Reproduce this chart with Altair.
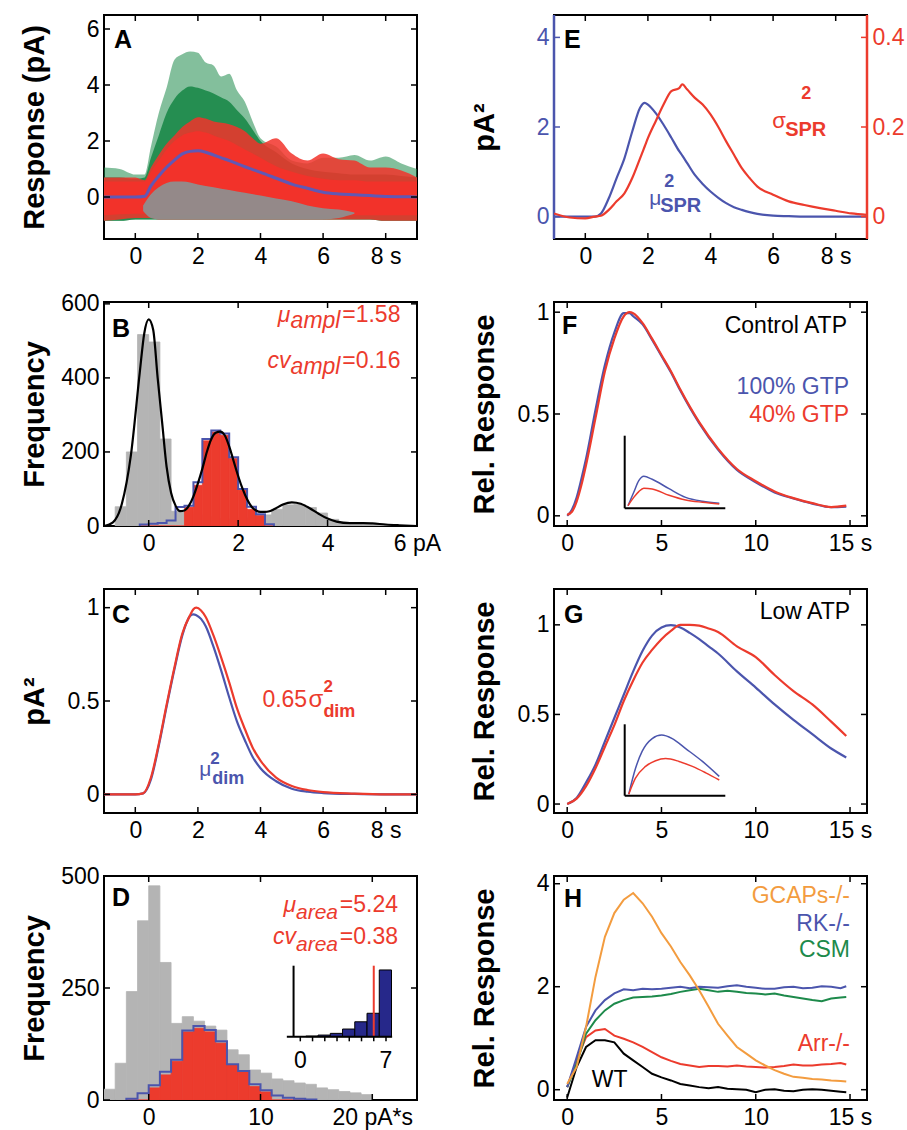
import altair as alt
import pandas as pd

FONT = "Liberation Sans"
W, H = 313, 224
TL = 6

BLUE = "#4b55ad"
RED = "#ec3b2d"
RED_A = "#f2322a"
GREEN = "#1d8a4b"
ORANGE = "#f39c3f"
GRAY = "#b4b4b4"
DGRAY = "#8e8e8e"
NAVY = "#26288a"
MEANBLUE = "#6158b4"

# ---------------- Panel A: response envelopes ----------------
a_t = [-1, -0.5, 0, 0.3, 0.5, 0.75, 1, 1.25, 1.5, 1.75, 2, 2.25, 2.5, 2.75, 3, 3.25, 3.5, 3.75, 4, 4.5,
       5, 5.5, 6, 6.5, 7, 7.5, 8, 8.5, 9]
green_top = [1.05, 1.0, 0.8, 0.8, 1.8, 3.0, 3.9, 4.9, 5.1, 5.2, 5.15, 4.8, 4.7, 4.3, 4.4, 3.8, 3.4, 2.7, 2.1, 1.8,
             1.3, 1.2, 1.4, 1.4, 1.5, 1.3, 1.45, 1.2, 1.0]
green_core = [0.7, 0.7, 0.65, 0.7, 1.4, 2.2, 3.0, 3.5, 3.8, 3.95, 3.9, 3.8, 3.7, 3.55, 3.4, 3.1, 2.8, 2.4, 2.0, 1.6,
              1.2, 1.0, 0.9, 0.85, 0.8, 0.8, 0.8, 0.75, 0.7]
green_bot = [-0.85, -0.85, -0.8, -0.8, -0.8, -0.8, -0.8, -0.8, -0.8, -0.8, -0.8, -0.8, -0.8, -0.8, -0.8, -0.8, -0.8,
             -0.8, -0.8, -0.8, -0.8, -0.8, -0.8, -0.8, -0.8, -0.8, -0.85, -0.85, -0.85]
red_top = [0.7, 0.7, 0.7, 0.6, 1.05, 1.5, 1.9, 2.2, 2.5, 2.7, 2.85, 2.8, 2.7, 2.65, 2.6, 2.5, 2.35, 2.1, 1.9, 2.1,
           1.55, 1.3, 1.55, 1.35, 1.3, 1.05, 1.05, 0.95, 0.7]
red_bot = [-0.85, -0.8, -0.75, -0.75, -0.75, -0.8, -0.8, -0.8, -0.8, -0.8, -0.8, -0.8, -0.8, -0.8, -0.8, -0.8, -0.8,
           -0.8, -0.8, -0.8, -0.8, -0.8, -0.8, -0.8, -0.8, -0.8, -0.85, -0.85, -0.85]
red_core = [0.55, 0.55, 0.55, 0.55, 0.9, 1.3, 1.7, 2.0, 2.2, 2.3, 2.35, 2.3, 2.2, 2.1, 2.0, 1.85, 1.7, 1.55, 1.4, 1.1,
            0.9, 0.75, 0.65, 0.6, 0.6, 0.55, 0.55, 0.55, 0.55]
red_core_bot = [-0.65, -0.62, -0.6, -0.6, -0.6, -0.62, -0.65, -0.65, -0.65, -0.65, -0.65, -0.65, -0.65, -0.65, -0.65,
                -0.65, -0.65, -0.65, -0.65, -0.65, -0.65, -0.65, -0.65, -0.65, -0.65, -0.65, -0.65, -0.65, -0.65]
a_mean = [0, 0, 0, 0.03, 0.4, 0.75, 1.06, 1.32, 1.54, 1.63, 1.65, 1.6, 1.5, 1.4, 1.3, 1.19, 1.08, 0.98, 0.88, 0.67,
          0.46, 0.31, 0.17, 0.11, 0.08, 0.05, 0.02, 0.01, 0.0]
a_gt = [0.25, 0.5, 0.75, 1, 1.25, 1.5, 2, 2.5, 3, 3.5, 4, 4.5, 5, 5.5, 6, 6.5, 7]
gray_top = [-0.3, 0.1, 0.35, 0.5, 0.55, 0.55, 0.45, 0.35, 0.25, 0.15, 0.05, -0.05, -0.15, -0.3, -0.4, -0.45, -0.55]
gray_bot = [-0.5, -0.75, -0.8, -0.8, -0.8, -0.8, -0.8, -0.8, -0.8, -0.8, -0.8, -0.8, -0.8, -0.8, -0.8, -0.75, -0.6]

# ---------------- Panel B: amplitude histogram ----------------
b_gray_lo = [-0.75, -0.5, -0.25, 0.0, 0.25, 0.5, 0.75, 1.0, 1.25, 1.5, 1.75, 2.0, 2.25, 2.5, 2.75, 3.0, 3.25, 3.5,
             3.75, 4.0, 4.25, 4.5, 4.75, 5.0, 5.25]
b_gray_w = 0.25
b_gray_n = [52, 200, 517, 497, 235, 40, 38, 30, 25, 20, 18, 22, 28, 30, 45, 57, 58, 50, 35, 18, 8, 5, 4, 3, 2]
b_edges = [-0.2, 0.0, 0.2, 0.4, 0.6, 0.8, 1.0, 1.2, 1.4, 1.6, 1.8, 2.0, 2.2, 2.4, 2.6, 2.8]
b_blue_n = [4, 6, 8, 15, 51, 55, 118, 235, 258, 250, 186, 100, 52, 32, 5]
b_red_n = [0, 0, 0, 0, 0, 51, 110, 230, 254, 245, 182, 97, 45, 28, 0]
b_fit_x = [-1.0, -0.8, -0.6, -0.4, -0.2, -0.1, 0.0, 0.1, 0.2, 0.3, 0.4, 0.5, 0.6, 0.7, 0.8, 0.9, 1.0, 1.1, 1.2, 1.3,
           1.4, 1.5, 1.6, 1.7, 1.8, 1.9, 2.0, 2.1, 2.2, 2.3, 2.4, 2.5, 2.6, 2.7, 2.8, 3.0, 3.2, 3.4, 3.6, 3.8,
           4.0, 4.2, 4.5, 4.8, 5.0, 5.3, 5.6, 6.0]
b_fit_y = [0, 10, 60, 190, 415, 520, 558, 530, 400, 280, 160, 90, 55, 40, 42, 55, 80, 115, 155, 200,
           235, 252, 255, 245, 215, 175, 135, 100, 72, 52, 42, 38, 38, 40, 45, 58, 64, 60, 48, 33,
           20, 12, 8, 8, 7, 4, 2, 0]

# ---------------- Panel C ----------------
c_t = [-1, 0, 0.25, 0.5, 0.75, 1, 1.25, 1.5, 1.75, 1.85, 1.95, 2.1, 2.25, 2.5, 2.75, 3, 3.25, 3.5, 3.75, 4,
       4.5, 5, 5.5, 6, 7, 8, 9]
c_red = [0, 0, 0.005, 0.09, 0.27, 0.48, 0.68, 0.86, 0.96, 0.99, 1.0, 0.985, 0.95, 0.85, 0.73, 0.6, 0.46, 0.35,
         0.25, 0.18, 0.09, 0.045, 0.023, 0.012, 0.004, 0, 0]
c_blue = [0, 0, 0.005, 0.08, 0.26, 0.47, 0.67, 0.85, 0.955, 0.964, 0.96, 0.94, 0.9, 0.79, 0.66, 0.52, 0.39, 0.29,
          0.2, 0.14, 0.07, 0.03, 0.014, 0.007, 0.002, 0, 0]

# ---------------- Panel D: area histogram ----------------
d_gray_lo = [-4, -3, -2, -1, 0, 1, 2, 3, 4, 5, 6, 7, 8, 9, 10, 11, 12, 13, 14, 15, 16, 17, 18, 19]
d_gray_w = 1
d_gray_n = [24, 82, 242, 400, 478, 307, 171, 186, 176, 165, 156, 112, 101, 67, 60, 47, 43, 38, 35, 27, 23, 19, 16, 12]
d_edges = [-2, -1, 0, 1, 2, 3, 4, 5, 6, 7, 8, 9, 10, 11, 12, 13, 14, 15]
d_blue_n = [3, 15, 33, 63, 90, 155, 165, 156, 131, 80, 65, 35, 22, 10, 5, 3, 1]
d_red_n = [0, 0, 27, 56, 86, 152, 160, 152, 127, 78, 63, 30, 18, 0, 0, 0, 0]
d_in_x = [1, 2, 3, 4, 5, 6, 7]
d_in_n = [0.9, 2.3, 4.7, 10.8, 21, 33, 94]
d_in_mark = [6.0]
d_in_ticks = [0, 1, 2, 3, 4, 5, 6, 7]
d_in_labels = ["0", "7"]
d_in_label_x = [0, 7]

# ---------------- Panel E ----------------
e_t = [-1, -0.5, 0, 0.3, 0.5, 0.75, 1, 1.25, 1.5, 1.75, 1.9, 2, 2.25, 2.5, 2.75, 3, 3.1, 3.25, 3.5, 3.75,
       4, 4.25, 4.5, 4.75, 5, 5.25, 5.5, 6, 6.5, 7, 7.5, 8, 8.5, 9]
e_mu = [0, 0, 0, 0, 0.07, 0.41, 0.86, 1.3, 1.9, 2.43, 2.54, 2.5, 2.31, 2.05, 1.76, 1.46, 1.36, 1.2, 0.93, 0.73,
        0.56, 0.42, 0.3, 0.21, 0.15, 0.1, 0.06, 0.02, 0.01, 0, 0, 0, 0, 0]
e_sig = [0.007, -0.002, -0.004, 0.0, 0.002, 0.015, 0.034, 0.052, 0.086, 0.13, 0.157, 0.175, 0.213, 0.25, 0.28,
         0.287, 0.295, 0.284, 0.265, 0.25, 0.228, 0.2, 0.168, 0.138, 0.108, 0.086, 0.067, 0.049, 0.034, 0.026,
         0.019, 0.013, 0.007, 0.004]

# ---------------- Panel F ----------------
f_t = [0, 0.25, 0.5, 0.75, 1, 1.5, 2, 2.5, 3, 3.3, 3.5, 4, 4.5, 5, 5.5, 6, 7, 8, 9, 10, 11, 12, 13, 14, 14.8]
f_red = [0.005, 0.02, 0.07, 0.15, 0.25, 0.48, 0.71, 0.87, 0.98, 1.0, 0.995, 0.946, 0.87, 0.79, 0.71, 0.62, 0.46,
         0.33, 0.23, 0.17, 0.12, 0.087, 0.062, 0.043, 0.05]
f_blue = [0.0, 0.03, 0.09, 0.18, 0.28, 0.52, 0.74, 0.9, 0.995, 0.995, 0.98, 0.94, 0.865, 0.785, 0.705, 0.615,
          0.455, 0.325, 0.225, 0.165, 0.115, 0.085, 0.06, 0.042, 0.045]
f_in_t = [0.33, 0.9, 1.4, 1.9, 2.73, 4.4, 6.06, 7.73, 9.4]
f_in_blue = [0.036, 0.22, 0.38, 0.44, 0.40, 0.27, 0.15, 0.096, 0.07]
f_in_red = [0.036, 0.15, 0.23, 0.275, 0.266, 0.18, 0.115, 0.083, 0.06]

# ---------------- Panel G ----------------
g_t = [0, 0.5, 1, 1.5, 2, 2.5, 3, 3.5, 4, 4.5, 5, 5.5, 6, 6.5, 7, 7.5, 8, 9, 10, 11, 12, 13, 14, 14.8]
g_blue = [0, 0.034, 0.12, 0.22, 0.35, 0.48, 0.61, 0.74, 0.855, 0.94, 0.985, 0.998, 0.985, 0.955, 0.92, 0.88, 0.84,
          0.74, 0.65, 0.556, 0.47, 0.39, 0.31, 0.26]
g_red = [0, 0.03, 0.1, 0.2, 0.32, 0.44, 0.575, 0.69, 0.79, 0.86, 0.92, 0.966, 1.0, 1.0, 0.996, 0.98, 0.96, 0.88,
         0.82, 0.72, 0.63, 0.556, 0.46, 0.38]
g_in_tb = [0.4, 1.07, 1.73, 2.73, 3.67, 4.73, 6.06, 7.73, 9.4]
g_in_blue = [0.02, 0.38, 0.62, 0.80, 0.85, 0.80, 0.66, 0.48, 0.27]
g_in_tr = [0.4, 1.07, 2.07, 3.07, 4.07, 5.4, 6.73, 8.06, 9.4]
g_in_red = [0.02, 0.245, 0.41, 0.49, 0.52, 0.48, 0.41, 0.32, 0.22]

# ---------------- Panel H ----------------
h_t = [0, 0.5, 1, 1.5, 2, 2.5, 3, 3.5, 4, 4.5, 5, 5.5, 6, 6.5, 7, 7.5, 8, 8.5, 9, 9.5, 10, 10.5, 11, 11.5, 12,
       12.5, 13, 13.5, 14, 14.5, 14.8]
h_gcaps = [0.11, 0.44, 1.22, 2.19, 2.97, 3.43, 3.69, 3.82, 3.62, 3.36, 3.04, 2.78, 2.48, 2.22, 1.93, 1.61, 1.28,
           1.05, 0.83, 0.7, 0.57, 0.47, 0.38, 0.31, 0.25, 0.23, 0.21, 0.2, 0.18, 0.17, 0.16]
h_rk = [0.05, 0.63, 1.22, 1.54, 1.74, 1.87, 1.95, 1.93, 1.96, 1.95, 1.96, 1.98, 2.0, 1.97, 2.0, 1.99, 1.98, 2.01,
        2.03, 2.0, 1.98, 1.96, 1.96, 1.99, 2.0, 1.97, 1.98, 2.01, 2.0, 1.97, 2.01]
h_csm = [0.05, 0.5, 1.09, 1.35, 1.54, 1.67, 1.74, 1.79, 1.8, 1.81, 1.83, 1.86, 1.9, 1.93, 1.96, 1.93, 1.9, 1.92,
         1.9, 1.88, 1.87, 1.85, 1.87, 1.83, 1.8, 1.77, 1.74, 1.72, 1.77, 1.79, 1.8]
h_arr = [0.05, 0.57, 1.02, 1.15, 1.18, 1.05, 0.99, 0.92, 0.83, 0.73, 0.63, 0.56, 0.5, 0.47, 0.44, 0.46, 0.46,
         0.45, 0.47, 0.45, 0.44, 0.43, 0.44, 0.46, 0.49, 0.47, 0.47, 0.49, 0.5, 0.52, 0.49]
h_wt = [-0.15, 0.44, 0.83, 0.96, 0.96, 0.92, 0.7, 0.57, 0.44, 0.31, 0.24, 0.18, 0.11, 0.08, 0.05, 0.03, 0.05,
        0.02, 0.01, 0.0, -0.05, 0.0, 0.01, -0.02, -0.03, 0.0, 0.01, 0.0, -0.02, -0.04, -0.05]


# ================= helpers =================
def xenc(dom, vals, last, unit):
    expr = f"datum.value == {last} ? '{last} {unit}' : datum.label"
    return alt.X("x:Q", scale=alt.Scale(domain=dom, nice=False, zero=False),
                 axis=alt.Axis(values=vals, labelExpr=expr, title=None, format="~f"))


def yenc(dom, vals, title=None, color="black", orient="left"):
    if title is not None:
        ax = alt.Axis(values=vals, format="~f", labelColor=color, orient=orient,
                      title=title, titleX=-84, titleBaseline="top")
    else:
        ax = alt.Axis(values=vals, format="~f", labelColor=color, orient=orient, title=None)
    return alt.Y("y:Q", scale=alt.Scale(domain=dom, nice=False, zero=False), axis=ax)


def inset_enc(xdom, xrng, ydom, yrng):
    return (alt.X("x:Q", scale=alt.Scale(domain=xdom, range=xrng, nice=False, zero=False), axis=None),
            alt.Y("y:Q", scale=alt.Scale(domain=ydom, range=yrng, nice=False, zero=False), axis=None))


def xticks(vals, X):
    df = pd.DataFrame({"x": vals})
    return [alt.Chart(df).mark_rule(color="black", strokeWidth=1.5).encode(x=X, y=alt.value(a), y2=alt.value(b))
            for a, b in [(0, TL), (H - TL, H)]]


def yticks(vals, Y, side, color="black"):
    df = pd.DataFrame({"y": vals})
    a, b = (0, TL) if side == "left" else (W - TL, W)
    return alt.Chart(df).mark_rule(color=color, strokeWidth=1.5).encode(y=Y, x=alt.value(a), x2=alt.value(b))


def letter(ch, dx, base):
    return alt.Chart(pd.DataFrame({"t": [ch]})).mark_text(
        font=FONT, fontSize=25, fontWeight="bold", align="left", baseline="alphabetic", color="black"
    ).encode(text="t:N", x=alt.value(dx), y=alt.value(base))


def txt(x, y, s, X, Y, color, size=23, dx=0, dy=0, align="left", style="normal", weight="normal"):
    return alt.Chart(pd.DataFrame({"x": [x], "y": [y], "t": [s]})).mark_text(
        font=FONT, fontSize=size, fontStyle=style, fontWeight=weight, color=color,
        align=align, baseline="alphabetic", dx=dx, dy=dy
    ).encode(x=X, y=Y, text="t:N")


def line(xs, ys, X, Y, color, width=2.0, interp="monotone"):
    df = pd.DataFrame({"x": xs, "y": ys})
    return alt.Chart(df).mark_line(color=color, strokeWidth=width, interpolate=interp, clip=True).encode(x=X, y=Y)


def band(xs, lo, hi, X, Y, color, opacity):
    df = pd.DataFrame({"x": xs, "y": lo, "y2": hi})
    return alt.Chart(df).mark_area(color=color, opacity=opacity, interpolate="monotone", clip=True).encode(
        x=X, y=Y, y2="y2:Q")


def bars(lo, width, n, X, Y, color, stroke=None):
    df = pd.DataFrame({"x": lo, "x2": [v + width for v in lo], "y": n, "y0": [0] * len(n)})
    if stroke:
        m = alt.Chart(df).mark_rect(fill=color, stroke=stroke, strokeWidth=1)
    else:
        m = alt.Chart(df).mark_rect(fill=color, stroke=color, strokeWidth=0.8, clip=True)
    return m.encode(x=X, x2="x2:Q", y=Y, y2="y0:Q")


def step(edges, n, X, Y, color):
    xs = [edges[0]] + list(edges[:-1]) + [edges[-1]]
    ys = [0] + list(n) + [0]
    df = pd.DataFrame({"x": xs, "y": ys, "i": list(range(len(xs)))})
    return alt.Chart(df).mark_line(color=color, strokeWidth=2, interpolate="step-after", clip=True).encode(
        x=X, y=Y, order="i:Q")


def edge_rule(xpx, color):
    return alt.Chart(pd.DataFrame({"a": [0]})).mark_rule(color=color, strokeWidth=2.5).encode(
        x=alt.value(xpx), y=alt.value(0), y2=alt.value(H))


# ================= Panel A =================
XA = xenc([-1, 9], [0, 2, 4, 6, 8], 8, "s")
YA = yenc([-1.5, 6.5], [0, 2, 4, 6], "Response (pA)")
pA = alt.layer(
    band(a_t, green_bot, green_top, XA, YA, GREEN, 0.55),
    band(a_t, green_bot, green_core, XA, YA, GREEN, 0.92),
    band(a_t, red_bot, red_top, XA, YA, RED_A, 0.85),
    band(a_t, red_core_bot, red_core, XA, YA, RED_A, 1.0),
    band(a_gt, gray_bot, gray_top, XA, YA, DGRAY, 0.95),
    line(a_t, a_mean, XA, YA, MEANBLUE, 3),
    *xticks([0, 2, 4, 6, 8], XA), yticks([0, 2, 4, 6], YA, "left"), yticks([0, 2, 4, 6], YA, "right"),
    letter("A", 10, 33),
).properties(width=W, height=H)

# ================= Panel B =================
XB = xenc([-1, 6], [0, 2, 4, 6], 6, "pA")
YB = yenc([0, 605], [0, 200, 400, 600], "Frequency")
pB = alt.layer(
    bars(b_gray_lo, b_gray_w, b_gray_n, XB, YB, GRAY),
    bars(b_edges[:-1], 0.2, b_red_n, XB, YB, RED),
    step(b_edges, b_blue_n, XB, YB, BLUE),
    line(b_fit_x, b_fit_y, XB, YB, "black", 2.2),
    txt(5.63, 552, "=1.58", XB, YB, RED, align="right"),
    txt(5.63, 552, "ampl", XB, YB, RED, align="right", dx=-60, dy=6, style="italic"),
    txt(5.63, 552, "μ", XB, YB, RED, align="right", dx=-110, style="italic"),
    txt(5.63, 426, "=0.16", XB, YB, RED, align="right"),
    txt(5.63, 426, "ampl", XB, YB, RED, align="right", dx=-60, dy=6, style="italic"),
    txt(5.63, 426, "cv", XB, YB, RED, align="right", dx=-110, style="italic"),
    *xticks([0, 2, 4, 6], XB), yticks([0, 200, 400, 600], YB, "left"), yticks([0, 200, 400, 600], YB, "right"),
    letter("B", 8, 35),
).properties(width=W, height=H)

# ================= Panel C =================
XC = xenc([-1, 9], [0, 2, 4, 6, 8], 8, "s")
YC = yenc([-0.1, 1.1], [0, 0.5, 1], "pA²")
pC = alt.layer(
    line(c_t, c_blue, XC, YC, BLUE, 2.2),
    line(c_t, c_red, XC, YC, RED, 2.2),
    txt(4.06, 0.47, "0.65", XC, YC, RED),
    txt(4.06, 0.47, "σ", XC, YC, RED, size=24, dx=46),
    txt(4.06, 0.47, "2", XC, YC, RED, size=17, dx=61, dy=-15, weight="bold"),
    txt(4.06, 0.47, "dim", XC, YC, RED, size=18, dx=61, dy=10, weight="bold"),
    txt(2.04, 0.10, "μ", XC, YC, BLUE, size=21),
    txt(2.04, 0.10, "2", XC, YC, BLUE, size=17, dx=11, dy=-12, weight="bold"),
    txt(2.04, 0.10, "dim", XC, YC, BLUE, size=18, dx=13, dy=8, weight="bold"),
    *xticks([0, 2, 4, 6, 8], XC), yticks([0, 0.5, 1], YC, "left"), yticks([0, 0.5, 1], YC, "right"),
    letter("C", 8, 34),
)
pC = pC.properties(width=W, height=H)

# ================= Panel D =================
XD = xenc([-4, 24], [0, 10, 20], 20, "pA*s")
YD = yenc([0, 500], [0, 250, 500], "Frequency")
d_main = alt.layer(
    bars(d_gray_lo, d_gray_w, d_gray_n, XD, YD, GRAY),
    bars(d_edges[:-1], 1, d_red_n, XD, YD, RED),
    step(d_edges, d_blue_n, XD, YD, BLUE),
    txt(22.3, 420, "=5.24", XD, YD, RED, align="right"),
    txt(22.3, 420, "area", XD, YD, RED, size=21, align="right", dx=-60, dy=7, style="italic"),
    txt(22.3, 420, "μ", XD, YD, RED, align="right", dx=-102, style="italic"),
    txt(22.3, 349, "=0.38", XD, YD, RED, align="right"),
    txt(22.3, 349, "area", XD, YD, RED, size=21, align="right", dx=-60, dy=7, style="italic"),
    txt(22.3, 349, "cv", XD, YD, RED, align="right", dx=-102, style="italic"),
    *xticks([0, 10, 20], XD), yticks([0, 250, 500], YD, "left"), yticks([0, 250, 500], YD, "right"),
    letter("D", 8, 30),
)
XDI, YDI = inset_enc([0, 7], [196.3, 282], [0, 100], [160.7, 89.7])
d_inset = alt.layer(
    bars([v - 0.55 for v in d_in_x], 1.0, d_in_n, XDI, YDI, NAVY, stroke="black"),
    alt.Chart(pd.DataFrame({"x": d_in_mark, "y": [0], "y2": [100]})).mark_rule(color=RED, strokeWidth=2).encode(
        x=XDI, y=YDI, y2="y2:Q"),
    alt.Chart(pd.DataFrame({"x": [-0.55], "y": [0], "y2": [100]})).mark_rule(color="black", strokeWidth=2).encode(
        x=XDI, y=YDI, y2="y2:Q"),
    alt.Chart(pd.DataFrame({"x": [-1.1], "x2": [7.5], "y": [0]})).mark_rule(color="black", strokeWidth=2).encode(
        x=XDI, x2="x2:Q", y=YDI),
    alt.Chart(pd.DataFrame({"x": d_in_ticks, "y": [0] * len(d_in_ticks), "y2": [-6.5] * len(d_in_ticks)})).mark_rule(
        color="black", strokeWidth=1.5).encode(x=XDI, y=YDI, y2="y2:Q"),
    alt.Chart(pd.DataFrame({"x": d_in_label_x, "y": [-34, -34], "t": d_in_labels})).mark_text(
        font=FONT, fontSize=23, baseline="middle", color="black").encode(x=XDI, y=YDI, text="t:N"),
)
pD = alt.layer(d_main, d_inset).resolve_scale(x="independent", y="independent").properties(width=W, height=H)

# ================= Panel E =================
XE = xenc([-1, 9], [0, 2, 4, 6, 8], 8, "s")
YE = yenc([-0.5, 4.5], [0, 2, 4], "pA²", color=BLUE)
YE2 = yenc([-0.05, 0.45], [0, 0.2, 0.4], None, color=RED, orient="right")
e_blue = alt.layer(
    line(e_t, e_mu, XE, YE, BLUE, 2.2),
    txt(2.04, 0.27, "μ", XE, YE, BLUE, size=21),
    txt(2.04, 0.27, "SPR", XE, YE, BLUE, size=20, dx=11, dy=7, weight="bold"),
    txt(2.04, 0.27, "2", XE, YE, BLUE, size=18, dx=15, dy=-18, weight="bold"),
    txt(5.97, 1.97, "σ", XE, YE, RED, size=22),
    txt(5.97, 1.97, "SPR", XE, YE, RED, size=20, dx=13, dy=8, weight="bold"),
    txt(5.97, 1.97, "2", XE, YE, RED, size=18, dx=29, dy=-29, weight="bold"),
    *xticks([0, 2, 4, 6, 8], XE), yticks([0, 2, 4], YE, "left", BLUE),
    edge_rule(0, BLUE),
    letter("E", 10, 33),
)
e_red = alt.layer(
    line(e_t, e_sig, XE, YE2, RED, 2.2),
    yticks([0, 0.2, 0.4], YE2, "right", RED),
    edge_rule(W, RED),
)
pE = alt.layer(e_blue, e_red).resolve_scale(y="independent").properties(width=W, height=H)

# ================= Panel F =================
XF = xenc([-0.7, 15.9], [0, 5, 10, 15], 15, "s")
YF = yenc([-0.05, 1.05], [0, 0.5, 1], "Rel. Response")
f_main = alt.layer(
    line(f_t, f_blue, XF, YF, BLUE, 2.2),
    line(f_t, f_red, XF, YF, RED, 2.2),
    txt(14.84, 0.897, "Control ATP", XF, YF, "black", align="right"),
    txt(14.95, 0.60, "100% GTP", XF, YF, BLUE, align="right"),
    txt(14.95, 0.46, "40% GTP", XF, YF, RED, align="right"),
    *xticks([0, 5, 10, 15], XF), yticks([0, 0.5, 1], YF, "left"), yticks([0, 0.5, 1], YF, "right"),
    letter("F", 8, 32),
)
XFI, YFI = inset_enc([0, 10], [70.7, 171.3], [0, 1], [206.3, 133.7])
f_inset = alt.layer(
    alt.Chart(pd.DataFrame({"x": [0], "y": [0], "y2": [1]})).mark_rule(color="black", strokeWidth=2).encode(
        x=XFI, y=YFI, y2="y2:Q"),
    alt.Chart(pd.DataFrame({"x": [0], "x2": [10], "y": [0]})).mark_rule(color="black", strokeWidth=2).encode(
        x=XFI, x2="x2:Q", y=YFI),
    line(f_in_t, f_in_blue, XFI, YFI, BLUE, 1.5),
    line(f_in_t, f_in_red, XFI, YFI, RED, 1.5),
)
pF = alt.layer(f_main, f_inset).resolve_scale(x="independent", y="independent").properties(width=W, height=H)

# ================= Panel G =================
XG = xenc([-0.7, 15.9], [0, 5, 10, 15], 15, "s")
YG = yenc([-0.05, 1.2], [0, 0.5, 1], "Rel. Response")
g_main = alt.layer(
    line(g_t, g_blue, XG, YG, BLUE, 2.2),
    line(g_t, g_red, XG, YG, RED, 2.2),
    txt(15.0, 1.03, "Low ATP", XG, YG, "black", align="right"),
    *xticks([0, 5, 10, 15], XG), yticks([0, 0.5, 1], YG, "left"), yticks([0, 0.5, 1], YG, "right"),
    letter("G", 10, 34),
)
XGI, YGI = inset_enc([0, 10], [70.7, 171.3], [0, 1], [206.7, 135.3])
g_inset = alt.layer(
    alt.Chart(pd.DataFrame({"x": [0], "y": [0], "y2": [1]})).mark_rule(color="black", strokeWidth=2).encode(
        x=XGI, y=YGI, y2="y2:Q"),
    alt.Chart(pd.DataFrame({"x": [0], "x2": [10], "y": [0]})).mark_rule(color="black", strokeWidth=2).encode(
        x=XGI, x2="x2:Q", y=YGI),
    line(g_in_tb, g_in_blue, XGI, YGI, BLUE, 1.5),
    line(g_in_tr, g_in_red, XGI, YGI, RED, 1.5),
)
pG = alt.layer(g_main, g_inset).resolve_scale(x="independent", y="independent").properties(width=W, height=H)

# ================= Panel H =================
XH = xenc([-0.7, 15.9], [0, 5, 10, 15], 15, "s")
YH = yenc([-0.2, 4.15], [0, 2, 4], "Rel. Response")
pH = alt.layer(
    line(h_t, h_wt, XH, YH, "black", 2, "linear"),
    line(h_t, h_arr, XH, YH, RED, 2, "linear"),
    line(h_t, h_csm, XH, YH, GREEN, 2, "linear"),
    line(h_t, h_rk, XH, YH, BLUE, 2, "linear"),
    line(h_t, h_gcaps, XH, YH, ORANGE, 2, "linear"),
    txt(15.0, 3.63, "GCAPs-/-", XH, YH, ORANGE, align="right"),
    txt(15.0, 3.09, "RK-/-", XH, YH, BLUE, align="right"),
    txt(15.0, 2.58, "CSM", XH, YH, GREEN, align="right"),
    txt(15.0, 0.76, "Arr-/-", XH, YH, RED, align="right"),
    txt(1.3, 0.06, "WT", XH, YH, "black"),
    *xticks([0, 5, 10, 15], XH), yticks([0, 2, 4], YH, "left"), yticks([0, 2, 4], YH, "right"),
    letter("H", 10, 31),
).properties(width=W, height=H)

chart = alt.concat(
    pA, pE, pB, pF, pC, pG, pD, pH,
    columns=2, spacing={"row": 63, "column": 137}, bounds="flush",
).properties(
    padding={"left": 18, "top": 12, "right": 2, "bottom": 2}
).configure(font=FONT).configure_view(
    stroke="black", strokeWidth=2
).configure_axis(
    labelFont=FONT, labelFontSize=23, labelColor="black", titleFont=FONT, titleFontSize=29,
    titleFontWeight="bold", titleColor="black", domain=False, ticks=False, grid=False,
    labelPadding=5, labelFlush=False
).configure_axisX(labelPadding=6)

chart.save("out.html", embed_options={"renderer": "svg", "actions": False})
